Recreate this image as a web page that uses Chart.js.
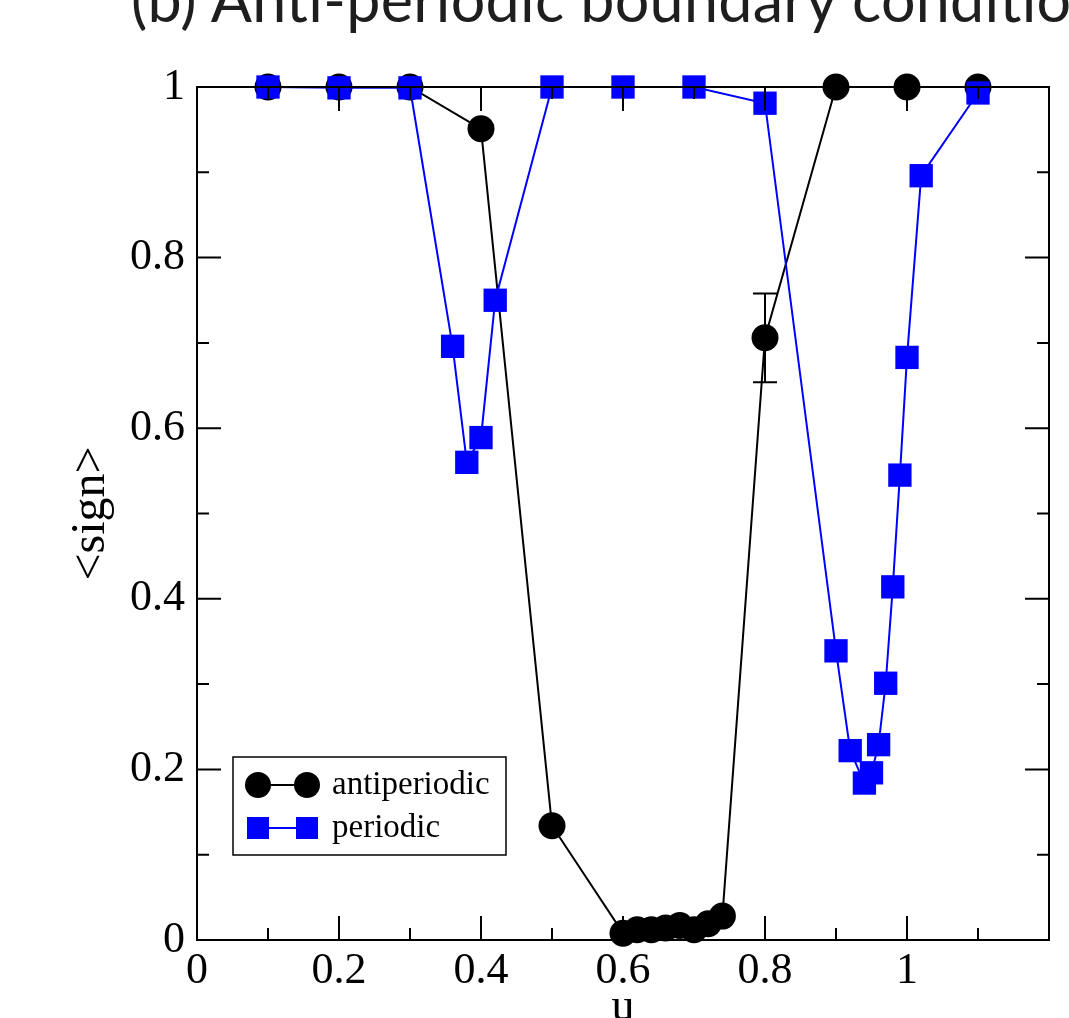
<!DOCTYPE html>
<html>
<head>
<meta charset="utf-8">
<script src="https://cdn.jsdelivr.net/npm/chart.js@4.4.1/dist/chart.umd.min.js"></script>
<style>
  html, body { margin: 0; padding: 0; background: #fff; overflow: hidden; width: 1069px; height: 1018px; }
  #title { position: absolute; left: 131px; top: -31px; font-family: Lato, sans-serif; font-size: 61px; line-height: 60px; color: #1e1e1e; white-space: nowrap; letter-spacing: 0.3px; }
  #wrap { position: absolute; left: 0; top: 0; width: 1069px; height: 1060px; }
</style>
</head>
<body>
<div id="wrap"><canvas id="c"></canvas></div>
<div id="title">(b) Anti-periodic boundary condition</div>
<script>
// ---- data ----
const antiX = [0.1, 0.2, 0.3, 0.4, 0.5, 0.6, 0.62, 0.64, 0.66, 0.68, 0.70, 0.72, 0.74, 0.8, 0.9, 1.0, 1.1];
const antiY = [1, 1, 1, 0.951, 0.134, 0.008, 0.012, 0.012, 0.014, 0.017, 0.012, 0.019, 0.028, 0.706, 1, 1, 1];
const antiErr = [0, 0, 0, 0, 0, 0, 0, 0, 0, 0, 0, 0, 0, 0.052, 0, 0, 0];

const perX = [0.1, 0.2, 0.3, 0.36, 0.38, 0.40, 0.42, 0.5, 0.6, 0.7, 0.8, 0.9, 0.92, 0.94, 0.95, 0.96, 0.97, 0.98, 0.99, 1.0, 1.02, 1.1];
const perY = [1, 0.999, 0.999, 0.696, 0.560, 0.589, 0.750, 1, 1, 1, 0.981, 0.339, 0.222, 0.184, 0.196, 0.229, 0.301, 0.414, 0.545, 0.683, 0.896, 0.993];

const seriesLabels = ['antiperiodic', 'periodic'];
const xTickLabels = ['0', '0.2', '0.4', '0.6', '0.8', '1', ''];
const yTickLabels = ['0', '0.2', '0.4', '0.6', '0.8', '1'];
const xTitle = 'u';
const yTitle = '<sign>';

const toPts = (xs, ys) => xs.map((x, i) => ({ x: x, y: ys[i] }));

// ---- plugins ----
const frameTicks = {
  id: 'frameTicks',
  afterDatasetsDraw(chart) {
    const { ctx, chartArea: { left, right, top, bottom }, scales: { x, y } } = chart;
    ctx.save();
    ctx.strokeStyle = '#000';
    ctx.lineWidth = 2;
    ctx.strokeRect(left, top, right - left, bottom - top);
    ctx.beginPath();
    for (let i = 1; i < 12; i++) {
      const px = x.getPixelForValue(i / 10);
      const len = (i % 2 === 0) ? 24 : 12;
      ctx.moveTo(px, bottom); ctx.lineTo(px, bottom - len);
      ctx.moveTo(px, top); ctx.lineTo(px, top + len);
    }
    for (let i = 1; i < 10; i++) {
      const py = y.getPixelForValue(i / 10);
      const len = (i % 2 === 0) ? 24 : 12;
      ctx.moveTo(left, py); ctx.lineTo(left + len, py);
      ctx.moveTo(right, py); ctx.lineTo(right - len, py);
    }
    ctx.stroke();
    ctx.restore();
  }
};

const errorBars = {
  id: 'errorBars',
  afterDatasetsDraw(chart) {
    const { ctx, scales: { x, y } } = chart;
    ctx.save();
    ctx.strokeStyle = '#000';
    ctx.lineWidth = 2;
    antiX.forEach((xv, i) => {
      const e = antiErr[i];
      if (!e) return;
      const px = x.getPixelForValue(xv);
      const y1 = y.getPixelForValue(antiY[i] + e);
      const y2 = y.getPixelForValue(antiY[i] - e);
      ctx.beginPath();
      ctx.moveTo(px, y1); ctx.lineTo(px, y2);
      ctx.moveTo(px - 12, y1); ctx.lineTo(px + 12, y1);
      ctx.moveTo(px - 12, y2); ctx.lineTo(px + 12, y2);
      ctx.stroke();
    });
    ctx.restore();
  }
};

const boxLegend = {
  id: 'boxLegend',
  afterDraw(chart) {
    const { ctx } = chart;
    const bx = 233, by = 757, bw = 273, bh = 98;
    ctx.save();
    ctx.fillStyle = '#fff';
    ctx.fillRect(bx, by, bw, bh);
    ctx.strokeStyle = '#000';
    ctx.lineWidth = 1.5;
    ctx.strokeRect(bx, by, bw, bh);
    const rows = [785, 828];
    chart.data.datasets.forEach((ds, i) => {
      const cy = rows[i];
      const x1 = 258, x2 = 307;
      ctx.strokeStyle = ds.borderColor;
      ctx.lineWidth = 2;
      ctx.beginPath(); ctx.moveTo(x1, cy); ctx.lineTo(x2, cy); ctx.stroke();
      ctx.fillStyle = ds.pointBackgroundColor;
      [x1, x2].forEach(px => {
        if (ds.pointStyle === 'rect') {
          ctx.fillRect(px - 11, cy - 11, 22, 22);
        } else {
          ctx.beginPath(); ctx.arc(px, cy, 13, 0, Math.PI * 2); ctx.fill();
        }
      });
      ctx.fillStyle = '#000';
      ctx.font = '33px "Liberation Serif", serif';
      ctx.textBaseline = 'middle';
      ctx.textAlign = 'left';
      ctx.fillText(ds.label, 332, cy);
    });
    ctx.restore();
  }
};

const serif = '"Liberation Serif", "Times New Roman", serif';

new Chart(document.getElementById('c'), {
  type: 'line',
  data: {
    datasets: [
      {
        label: seriesLabels[0],
        data: toPts(antiX, antiY),
        borderColor: '#000',
        backgroundColor: '#000',
        pointBackgroundColor: '#000',
        pointBorderColor: '#000',
        pointStyle: 'circle',
        pointRadius: 13.5,
        pointBorderWidth: 0,
        borderWidth: 2,
        tension: 0,
        clip: false,
        order: 2
      },
      {
        label: seriesLabels[1],
        data: toPts(perX, perY),
        borderColor: '#0000ff',
        backgroundColor: '#0000ff',
        pointBackgroundColor: '#0000ff',
        pointBorderColor: '#0000ff',
        pointStyle: 'rect',
        pointRadius: 16.5,
        pointBorderWidth: 0,
        borderWidth: 2,
        tension: 0,
        clip: false,
        order: 1
      }
    ]
  },
  options: {
    responsive: true,
    maintainAspectRatio: false,
    animation: false,
    events: [],
    layout: { padding: { top: 87, right: 20, left: 0, bottom: 0 } },
    plugins: {
      legend: { display: false },
      tooltip: { enabled: false },
      title: { display: false }
    },
    scales: {
      x: {
        type: 'linear',
        min: 0, max: 1.2,
        grid: { display: false, drawTicks: false },
        border: { display: false },
        ticks: {
          stepSize: 0.2,
          padding: 5,
          color: '#000',
          font: { family: serif, size: 44 },
          maxRotation: 0,
          autoSkip: false,
          callback: (v, i) => xTickLabels[i]
        },
        title: {
          display: true, text: xTitle, color: '#000',
          font: { family: serif, size: 46 },
          padding: { top: 0, bottom: 24 }
        },
        afterFit: (s) => { s.height = 120; }
      },
      y: {
        type: 'linear',
        min: 0, max: 1,
        grid: { display: false, drawTicks: false },
        border: { display: false },
        ticks: {
          stepSize: 0.2,
          padding: 12,
          color: '#000',
          font: { family: serif, size: 44 },
          autoSkip: false,
          callback: (v, i) => yTickLabels[i]
        },
        title: {
          display: true, text: yTitle, color: '#000',
          font: { family: serif, size: 48 },
          padding: { top: 63, bottom: 0 }
        },
        afterFit: (s) => { s.width = 197; }
      }
    }
  },
  plugins: [errorBars, frameTicks, boxLegend]
});
</script>
</body>
</html>
